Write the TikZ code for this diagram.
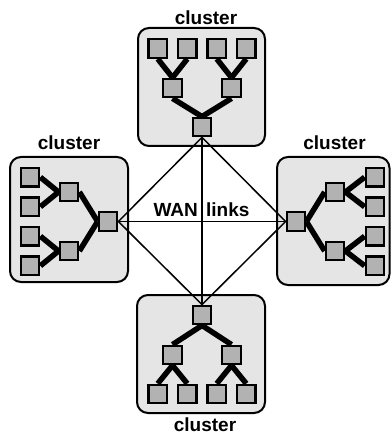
\documentclass[tikz,border=0pt]{standalone}
\usepackage{fontspec}
\setmainfont{Liberation Sans}
\definecolor{boxgray}{gray}{0.9}
\definecolor{sqgray}{gray}{0.7}
\pgfdeclarelayer{boxes}
\pgfdeclarelayer{links}
\pgfsetlayers{boxes,links,main}
\tikzset{
  sq/.style={draw=black, fill=sqgray, line width=2.3pt, minimum size=18.5pt, inner sep=0pt},
  clusterbox/.style={draw=black, fill=boxgray, line width=2pt, rounded corners=11pt},
  branch/.style={line width=5.5pt},
  wan/.style={line width=1.5pt},
  lbl/.style={font=\fontsize{19}{21}\selectfont\bfseries, inner sep=0pt, anchor=base},
}
\begin{document}
\begin{tikzpicture}[x=1pt,y=-1pt]
\useasboundingbox (0,0) rectangle (391,435);

% ---- switches: top cluster
\node[sq] (tr)  at (202,127) {};
\node[sq] (tm1) at (172.5,88) {};
\node[sq] (tm2) at (231.5,88) {};
\node[sq] (tl1) at (157.75,48.5) {};
\node[sq] (tl2) at (187.25,48.5) {};
\node[sq] (tl3) at (216.75,48.5) {};
\node[sq] (tl4) at (246.25,48.5) {};
% ---- bottom cluster
\node[sq] (br)  at (202,315) {};
\node[sq] (bm1) at (172.5,355) {};
\node[sq] (bm2) at (231.5,355) {};
\node[sq] (bl1) at (157.75,394) {};
\node[sq] (bl2) at (187.25,394) {};
\node[sq] (bl3) at (216.75,394) {};
\node[sq] (bl4) at (246.25,394) {};
% ---- left cluster
\node[sq] (lr)  at (108,221.5) {};
\node[sq] (lm1) at (69,192) {};
\node[sq] (lm2) at (69,251) {};
\node[sq] (ll1) at (30,177.25) {};
\node[sq] (ll2) at (30,206.75) {};
\node[sq] (ll3) at (30,236.25) {};
\node[sq] (ll4) at (30,265.75) {};
% ---- right cluster
\node[sq] (rr)  at (296,221.5) {};
\node[sq] (rm1) at (335,192) {};
\node[sq] (rm2) at (335,251) {};
\node[sq] (rl1) at (375,177.25) {};
\node[sq] (rl2) at (375,206.75) {};
\node[sq] (rl3) at (375,236.25) {};
\node[sq] (rl4) at (375,265.75) {};

% ---- cluster frames
\begin{pgfonlayer}{boxes}
  \draw[clusterbox] (138,28) rectangle (265,146);
  \draw[clusterbox] (137,295) rectangle (265,413);
  \draw[clusterbox] (10,157) rectangle (128,282);
  \draw[clusterbox] (277,157) rectangle (389.5,285);
\end{pgfonlayer}

% ---- tree branches and WAN links
\begin{pgfonlayer}{links}
  \draw[branch] (tl1.south) -- (tm1.north);
  \draw[branch] (tl2.south) -- (tm1.north);
  \draw[branch] (tl3.south) -- (tm2.north);
  \draw[branch] (tl4.south) -- (tm2.north);
  \draw[branch] (tm1.south) -- (tr.north);
  \draw[branch] (tm2.south) -- (tr.north);

  \draw[branch] (bl1.north) -- (bm1.south);
  \draw[branch] (bl2.north) -- (bm1.south);
  \draw[branch] (bl3.north) -- (bm2.south);
  \draw[branch] (bl4.north) -- (bm2.south);
  \draw[branch] (bm1.north) -- (br.south);
  \draw[branch] (bm2.north) -- (br.south);

  \draw[branch] (ll1.east) -- (lm1.west);
  \draw[branch] (ll2.east) -- (lm1.west);
  \draw[branch] (ll3.east) -- (lm2.west);
  \draw[branch] (ll4.east) -- (lm2.west);
  \draw[branch] (lm1.east) -- (lr.west);
  \draw[branch] (lm2.east) -- (lr.west);

  \draw[branch] (rl1.west) -- (rm1.east);
  \draw[branch] (rl2.west) -- (rm1.east);
  \draw[branch] (rl3.west) -- (rm2.east);
  \draw[branch] (rl4.west) -- (rm2.east);
  \draw[branch] (rm1.west) -- (rr.east);
  \draw[branch] (rm2.west) -- (rr.east);

  \draw[wan] (tr.south) -- (br.north);
  \draw[wan] (lr.east) -- (rr.west);
  \draw[wan] (tr.south) -- (lr.east);
  \draw[wan] (tr.south) -- (rr.west);
  \draw[wan] (br.north) -- (lr.east);
  \draw[wan] (br.north) -- (rr.west);
\end{pgfonlayer}

% ---- labels
\node[lbl] (toplbl)   at (206,25)    {cluster};
\node[lbl] (botlbl)   at (205,431.5) {cluster};
\node[lbl] (leftlbl)  at (69,150)    {cluster};
\node[lbl] (rightlbl) at (334.5,150) {cluster};
\node[lbl] (wanlbl)   at (201.5,216) {WAN\hspace{3pt} links};
\end{tikzpicture}
\end{document}
